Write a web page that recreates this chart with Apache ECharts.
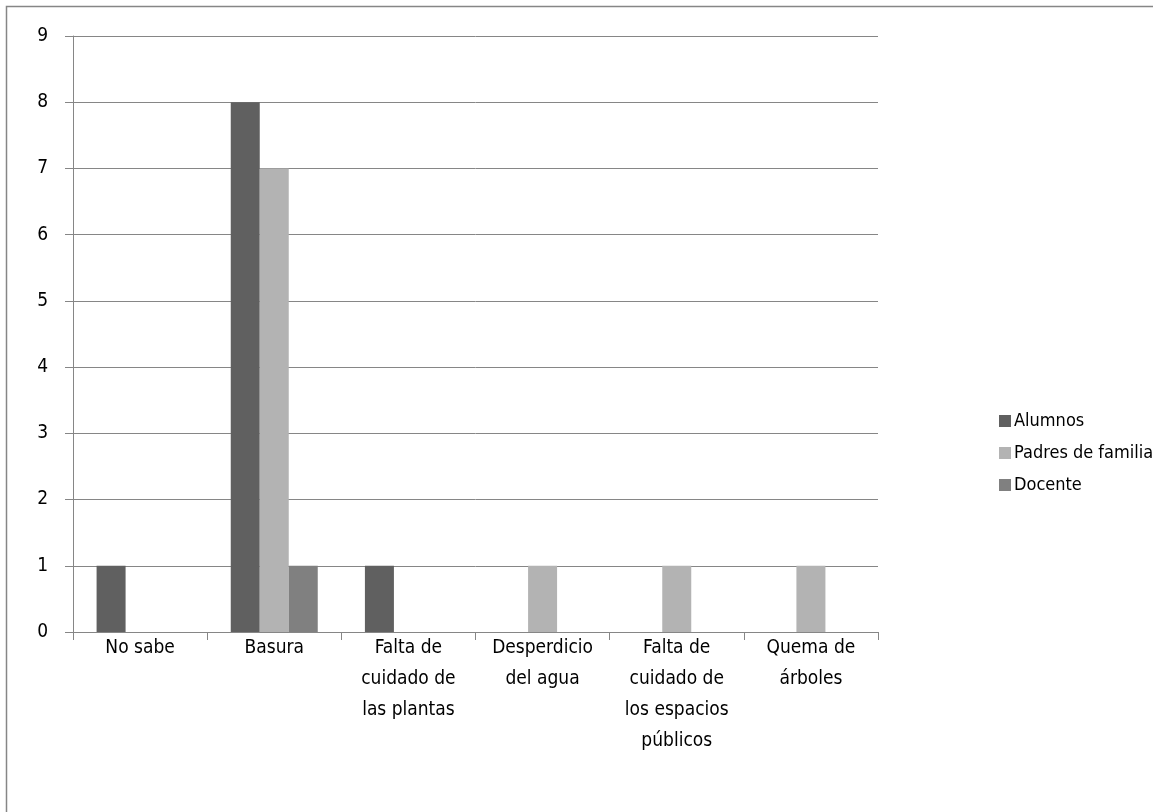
<!DOCTYPE html>
<html>
<head>
<meta charset="utf-8">
<script src="https://cdn.jsdelivr.net/npm/echarts@6/dist/echarts.min.js"></script>
<style>
  html, body { margin: 0; padding: 0; background: #fff; }
  #main { width: 1153px; height: 812px; }
</style>
</head>
<body>
<div id="main"></div>
<script>
// datos
const categorias = [
  'No sabe',
  'Basura',
  'Falta de\ncuidado de\nlas plantas',
  'Desperdicio\ndel agua',
  'Falta de\ncuidado de\nlos espacios\npúblicos',
  'Quema de\nárboles'
]
const alumnos = [1, 8, 1, 0, 0, 0]
const padres = [0, 7, 0, 1, 1, 1]
const docente = [0, 1, 0, 0, 0, 0]
const ticksY = [0, 9, 1] // min, max, intervalo

const fuente = '"DejaVu Sans Condensed", sans-serif'
const gris = '#868686'

const chartDom = document.getElementById('main')
const myChart = echarts.init(chartDom)

const option = {
  animation: false,
  textStyle: { fontFamily: fuente },
  graphic: [{
    type: 'rect',
    shape: { x: 6.5, y: 6.5, width: 1300, height: 1000 },
    style: { fill: 'none', stroke: gris, lineWidth: 1.5 },
    silent: true
  }],
  grid: { left: 73, right: 275, top: 36, bottom: 180 },
  legend: {
    orient: 'vertical',
    left: 994,
    top: 404,
    itemWidth: 12,
    itemHeight: 12,
    itemGap: 8,
    icon: 'rect',
    textStyle: { fontSize: 18, lineHeight: 24, color: '#000', fontFamily: fuente, padding: [0, 0, 0, -2] },
    data: ['Alumnos', 'Padres de familia', 'Docente']
  },
  xAxis: {
    type: 'category',
    data: categorias,
    axisLine: { lineStyle: { color: gris, width: 1 } },
    axisTick: { show: true, length: 8, lineStyle: { color: gris } },
    axisLabel: {
      interval: 0,
      color: '#000',
      fontSize: 19,
      lineHeight: 31,
      margin: 1,
      fontFamily: fuente
    }
  },
  yAxis: {
    type: 'value',
    min: ticksY[0],
    max: ticksY[1],
    interval: ticksY[2],
    axisLine: { show: true, lineStyle: { color: gris, width: 1 } },
    axisTick: { show: true, length: 8, lineStyle: { color: gris } },
    splitLine: { lineStyle: { color: gris, width: 1 } },
    axisLabel: { color: '#000', fontSize: 19, margin: 25, fontFamily: fuente }
  },
  series: [
    { name: 'Alumnos', type: 'bar', data: alumnos, barWidth: 29, barGap: '0%', itemStyle: { color: '#606060' } },
    { name: 'Padres de familia', type: 'bar', data: padres, barWidth: 29, barGap: '0%', itemStyle: { color: '#b3b3b3' } },
    { name: 'Docente', type: 'bar', data: docente, barWidth: 29, barGap: '0%', itemStyle: { color: '#808080' } }
  ]
}

option && myChart.setOption(option)
</script>
</body>
</html>
